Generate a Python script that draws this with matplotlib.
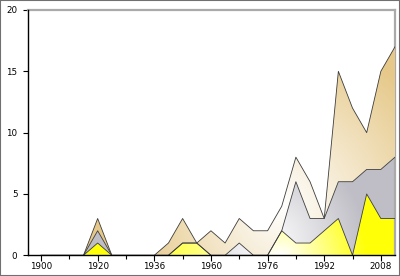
import numpy as np
import matplotlib.pyplot as plt
from matplotlib.patches import Polygon, Rectangle
from matplotlib.colors import to_rgb

# olympic years (categorical axis)
years = [1900, 1904, 1908, 1912, 1920, 1924, 1928, 1932, 1936, 1948, 1952, 1956,
         1960, 1964, 1968, 1972, 1976, 1980, 1984, 1988, 1992, 1996, 2000, 2004,
         2008, 2012]
gold = [0, 0, 0, 0, 1, 0, 0, 0, 0, 0, 1, 1, 0, 0, 0, 0, 0, 2, 1, 1, 2, 3, 0, 5, 3, 3]
silver = [0, 0, 0, 0, 1, 0, 0, 0, 0, 0, 0, 0, 0, 0, 1, 0, 0, 0, 5, 2, 1, 3, 6, 2, 4, 5]
bronze = [0, 0, 0, 0, 1, 0, 0, 0, 0, 1, 2, 0, 2, 1, 2, 2, 2, 2, 2, 3, 0, 9, 6, 3, 8, 9]
tick_years = [1900, 1920, 1936, 1960, 1976, 1992, 2008]

colors = ['#ffff08', '#bfbec6', '#e6c98a']
# gradient shape per layer: centre x, centre y, radius left, radius right, radius y
grads = [(17, 0, 11, 6, 6), (16, 1, 8, 7, 8), (17, 4, 11, 12, 14)]

fig = plt.figure(figsize=(4, 2.76), dpi=100)
ax = fig.add_axes([0.07, 0.075, 0.9175, 0.8888])

x = np.arange(len(years))
g = np.array(gold, float)
s = np.array(silver, float)
b = np.array(bronze, float)
levels = [np.zeros_like(g), g, g + s, g + s + b]

xlim = (-0.92, 25)
ylim = (0, 20)
ax.set_xlim(*xlim)
ax.set_ylim(*ylim)

nx, ny = 400, 250
GX, GY = np.meshgrid(np.linspace(xlim[0], xlim[1], nx), np.linspace(ylim[0], ylim[1], ny))

for i in range(3):
    cx, cy, rl, rr, ry = grads[i]
    rx = np.where(GX < cx, rl, rr)
    t = np.clip(np.sqrt(((GX - cx) / rx) ** 2 + ((GY - cy) / ry) ** 2), 0, 1)
    base = np.array(to_rgb(colors[i]))
    img = (1 - t[..., None]) + base * t[..., None]
    im = ax.imshow(img, extent=(xlim[0], xlim[1], ylim[0], ylim[1]), origin='lower',
                   aspect='auto', zorder=1 + i, interpolation='bilinear')
    lo, hi = levels[i], levels[i + 1]
    verts = np.vstack([np.column_stack([x, hi]), np.column_stack([x[::-1], lo[::-1]])])
    poly = Polygon(verts, closed=True, facecolor='none', edgecolor='none')
    ax.add_patch(poly)
    im.set_clip_path(poly)
    ax.plot(x, hi, color='#3c3c3c', lw=0.6, zorder=5)

ax.set_xticks(x[::4])
ax.set_xticklabels([str(v) for v in tick_years])
ax.set_xticks(x[2::4], minor=True)
ax.set_yticks([0, 5, 10, 15, 20])
ax.tick_params(axis='x', which='major', length=4, width=0.8, labelsize=6.3, pad=1)
ax.tick_params(axis='x', which='minor', length=3, width=0.8)
ax.tick_params(axis='y', length=3.8, width=0.8, labelsize=6.3, pad=3.8)

for side in ['left', 'bottom']:
    ax.spines[side].set_color('black')
    ax.spines[side].set_linewidth(1.0)
    ax.spines[side].set_zorder(6)
for side in ['top', 'right']:
    ax.spines[side].set_color('#aaaaaa')
    ax.spines[side].set_linewidth(1.6)

fig.patches.append(Rectangle((0, 0), 1, 1, transform=fig.transFigure, fill=False,
                             edgecolor='#707070', lw=1.5))

fig.savefig('out.png', dpi=100)
